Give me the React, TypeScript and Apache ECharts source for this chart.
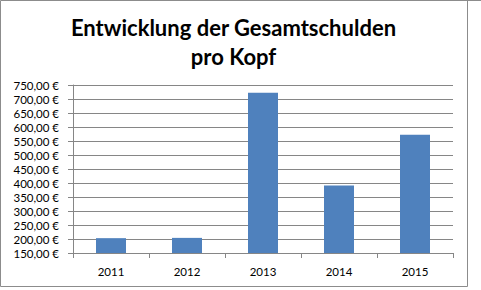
import React, { useEffect, useRef } from "react";
import * as echarts from "echarts";

const categories = ["2011", "2012", "2013", "2014", "2015"];
const values = [203, 204, 722, 391, 572];
const titleLines = ["Entwicklung der Gesamtschulden", "pro Kopf"];

const fmt = (v: number) => v.toFixed(2).replace(".", ",") + "\u202F€";

export default function App() {
  const ref = useRef<HTMLDivElement>(null);
  useEffect(() => {
    const chart = echarts.init(ref.current!, null, { renderer: "svg" });
    chart.setOption({
      animation: false,
      backgroundColor: "#ffffff",
      textStyle: { fontFamily: "Lato" },
      graphic: [
        {
          type: "rect",
          shape: { x: 0.5, y: 0.5, width: 467, height: 286 },
          style: { fill: "none", stroke: "#8c8c8c", lineWidth: 1 },
          silent: true,
        },
        {
          type: "line",
          shape: { x1: 467, y1: 0.5, x2: 481, y2: 0.5 },
          style: { stroke: "#8c8c8c", lineWidth: 1 },
          silent: true,
        },
        {
          type: "text",
          x: 233.5,
          y: 13,
          style: {
            text: titleLines.join("\n"),
            fontFamily: "Lato",
            fontWeight: "bold",
            fontSize: 22,
            lineHeight: 29,
            fill: "#000000",
            align: "center",
            verticalAlign: "top",
          },
        },
      ],
      grid: { left: 73, right: 28, top: 85, bottom: 37, containLabel: false },
      xAxis: {
        type: "category",
        data: categories,
        axisLine: { show: true, lineStyle: { color: "#868686", width: 1 } },
        axisTick: { show: true, alignWithLabel: false, length: 5, lineStyle: { color: "#868686" } },
        axisLabel: { color: "#000000", fontSize: 11.5, margin: 12, fontFamily: "Lato" },
        splitLine: { show: false },
      },
      yAxis: {
        type: "value",
        min: 150,
        max: 750,
        interval: 50,
        axisLine: { show: true, lineStyle: { color: "#868686", width: 1 } },
        axisTick: { show: true, length: 5, lineStyle: { color: "#868686" } },
        axisLabel: { color: "#000000", fontSize: 11.5, margin: 14, fontFamily: "Lato", formatter: fmt },
        splitLine: { show: true, lineStyle: { color: "#868686", width: 1 } },
      },
      series: [
        {
          type: "bar",
          data: values,
          barWidth: 30,
          itemStyle: { color: "#4F81BD" },
        },
      ],
    });
    return () => chart.dispose();
  }, []);
  return (
    <div
      ref={ref}
      style={{ position: "absolute", left: 0, top: 0, width: 481, height: 290 }}
    />
  );
}
